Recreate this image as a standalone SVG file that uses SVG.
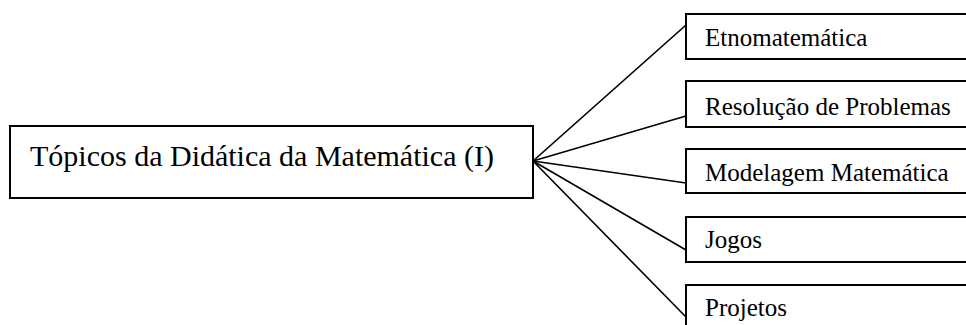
<svg xmlns="http://www.w3.org/2000/svg" width="966" height="325" viewBox="0 0 966 325">
<style>
.box{fill:#fff;stroke:#000;stroke-width:2}
.lbl{font-family:"Liberation Serif","Times New Roman",serif;font-size:25px;fill:#000}
.main{font-family:"Liberation Serif","Times New Roman",serif;font-size:30px;fill:#000}
.con{stroke:#000;stroke-width:1.6;fill:none}
</style>
<rect width="966" height="325" fill="#fff"/>
<g id="connectors">
<line class="con" x1="533" y1="161" x2="686" y2="25"/>
<line class="con" x1="533" y1="161" x2="686" y2="116"/>
<line class="con" x1="533" y1="161" x2="686" y2="183"/>
<line class="con" x1="533" y1="161" x2="686" y2="250"/>
<line class="con" x1="533" y1="161" x2="686" y2="317"/>
</g>
<g id="main">
<rect class="box" x="10" y="126" width="523" height="72"/>
<text class="main" x="30" y="166">Tópicos da Didática da Matemática (I)</text>
</g>
<g id="etnomatematica">
<rect class="box" x="686" y="14" width="290" height="45"/>
<text class="lbl" x="705" y="46">Etnomatemática</text>
</g>
<g id="resolucao">
<rect class="box" x="686" y="81" width="290" height="46"/>
<text class="lbl" x="705" y="115">Resolução de Problemas</text>
</g>
<g id="modelagem">
<rect class="box" x="686" y="149" width="290" height="44"/>
<text class="lbl" x="705" y="181">Modelagem Matemática</text>
</g>
<g id="jogos">
<rect class="box" x="686" y="217" width="290" height="45"/>
<text class="lbl" x="705" y="248">Jogos</text>
</g>
<g id="projetos">
<rect class="box" x="686" y="285" width="290" height="45"/>
<text class="lbl" x="705" y="316">Projetos</text>
</g>
</svg>
